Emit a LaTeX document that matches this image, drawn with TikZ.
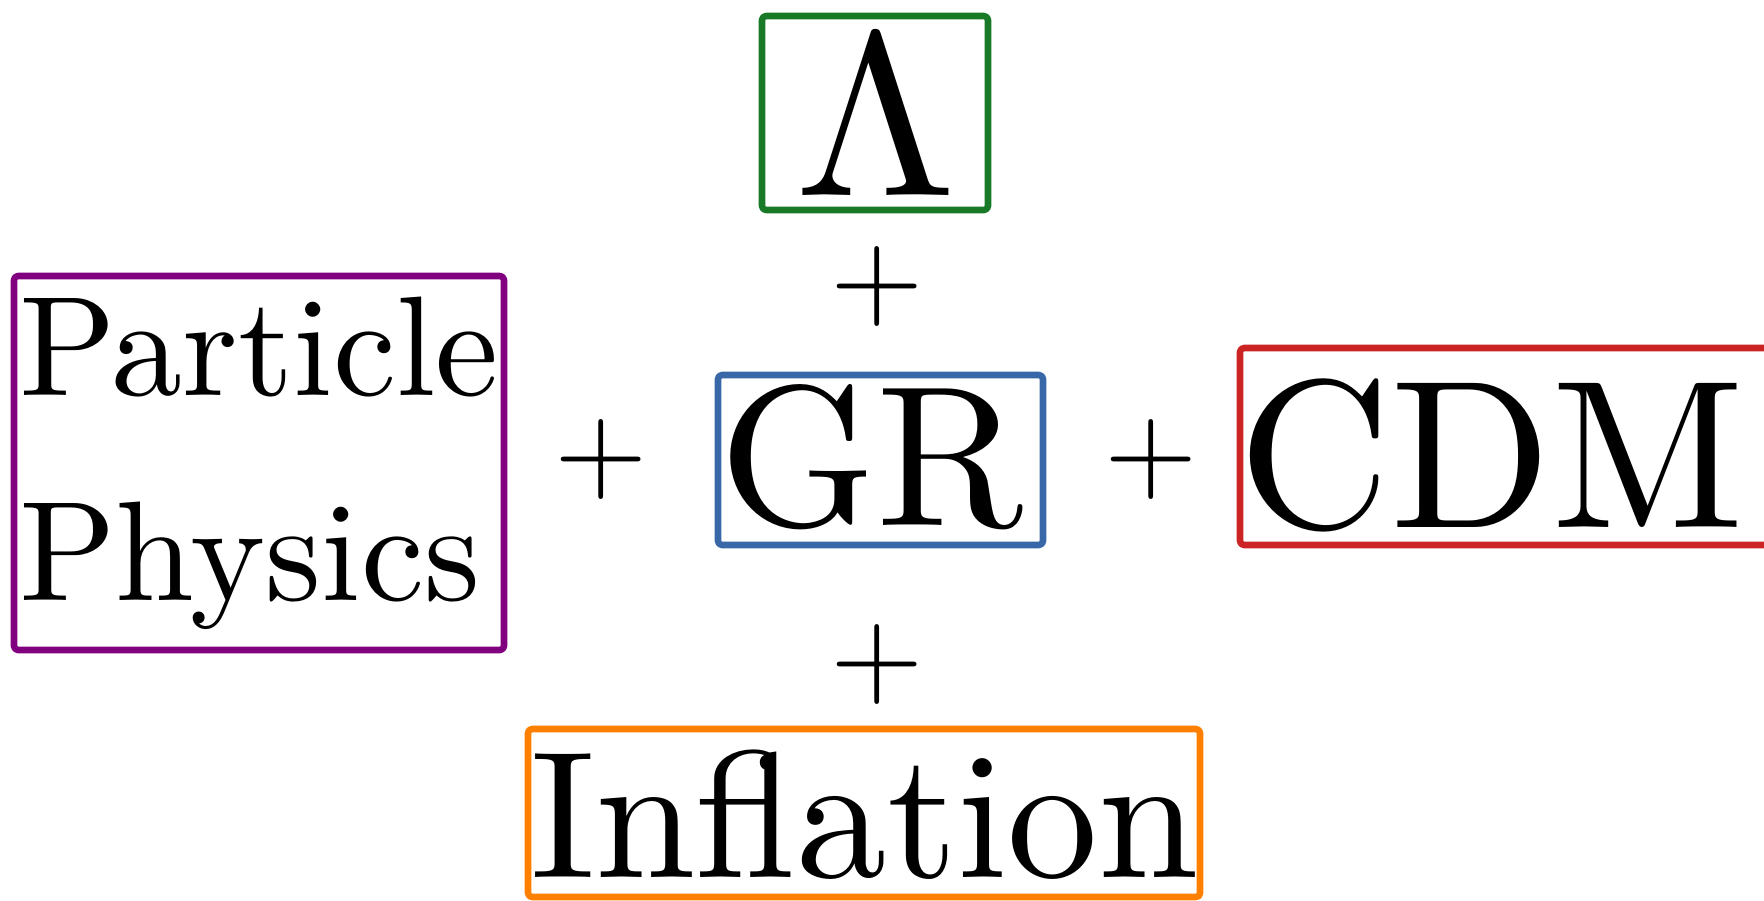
\documentclass[tikz,border=0pt]{standalone}
\usepackage{fontspec}
\newfontfamily\lmten{lmroman10-regular}[Extension=.otf]
\definecolor{cgreen}{RGB}{24,122,38}
\definecolor{cpurple}{RGB}{128,0,128}
\definecolor{cblue}{RGB}{57,104,168}
\definecolor{cred}{RGB}{204,36,36}
\definecolor{corange}{RGB}{255,128,0}
\tikzset{
  box/.style={line width=3.3pt, rounded corners=2pt, line join=round},
  txt/.style={inner sep=0pt, outer sep=0pt},
  plussign/.style={inner sep=0pt, outer sep=0pt, anchor=center, font=\lmten\fontsize{60pt}{60pt}\selectfont},
}
\begin{document}
\begin{tikzpicture}[x=0.5pt,y=-0.5pt]
\useasboundingbox (0,0) rectangle (1764,900);
\clip (0,0) rectangle (1764,900);
% boxes
\draw[box, cgreen]  (762,16) rectangle (988,210);
\draw[box, cpurple] (14,276) rectangle (504,650);
\draw[box, cblue]   (718,375) rectangle (1043,545);
\draw[box, cred]    (1240,348) rectangle (1800,545);
\draw[box, corange] (528,729) rectangle (1200,897);
% texts
\node[txt, anchor=base, font=\lmten\fontsize{116pt}{116pt}\selectfont] (lambda) at (876,195) {Λ};
\node[txt, anchor=base west, font=\lmten\fontsize{71pt}{71pt}\selectfont] (particle) at (19,395) {Particle};
\node[txt, anchor=base west, font=\lmten\fontsize{71pt}{71pt}\selectfont] (physics) at (19,600) {Physics};
\node[txt, anchor=base, font=\lmten\fontsize{100pt}{100pt}\selectfont] (gr) at (872,525) {GR};
\node[txt, anchor=base west, font=\lmten\fontsize{105.5pt}{105.5pt}\selectfont] (cdm) at (1238,527) {CDM};
\node[txt, anchor=base west, font=\lmten\fontsize{90.5pt}{90.5pt}\selectfont] (inflation) at (530,877) {Inflation};
% plus signs
\node[plussign] (ptop) at (877,286) {+};
\node[plussign] (pleft) at (601,459) {+};
\node[plussign] (pright) at (1151.5,459) {+};
\node[plussign] (pbottom) at (877,664) {+};
\end{tikzpicture}
\end{document}
